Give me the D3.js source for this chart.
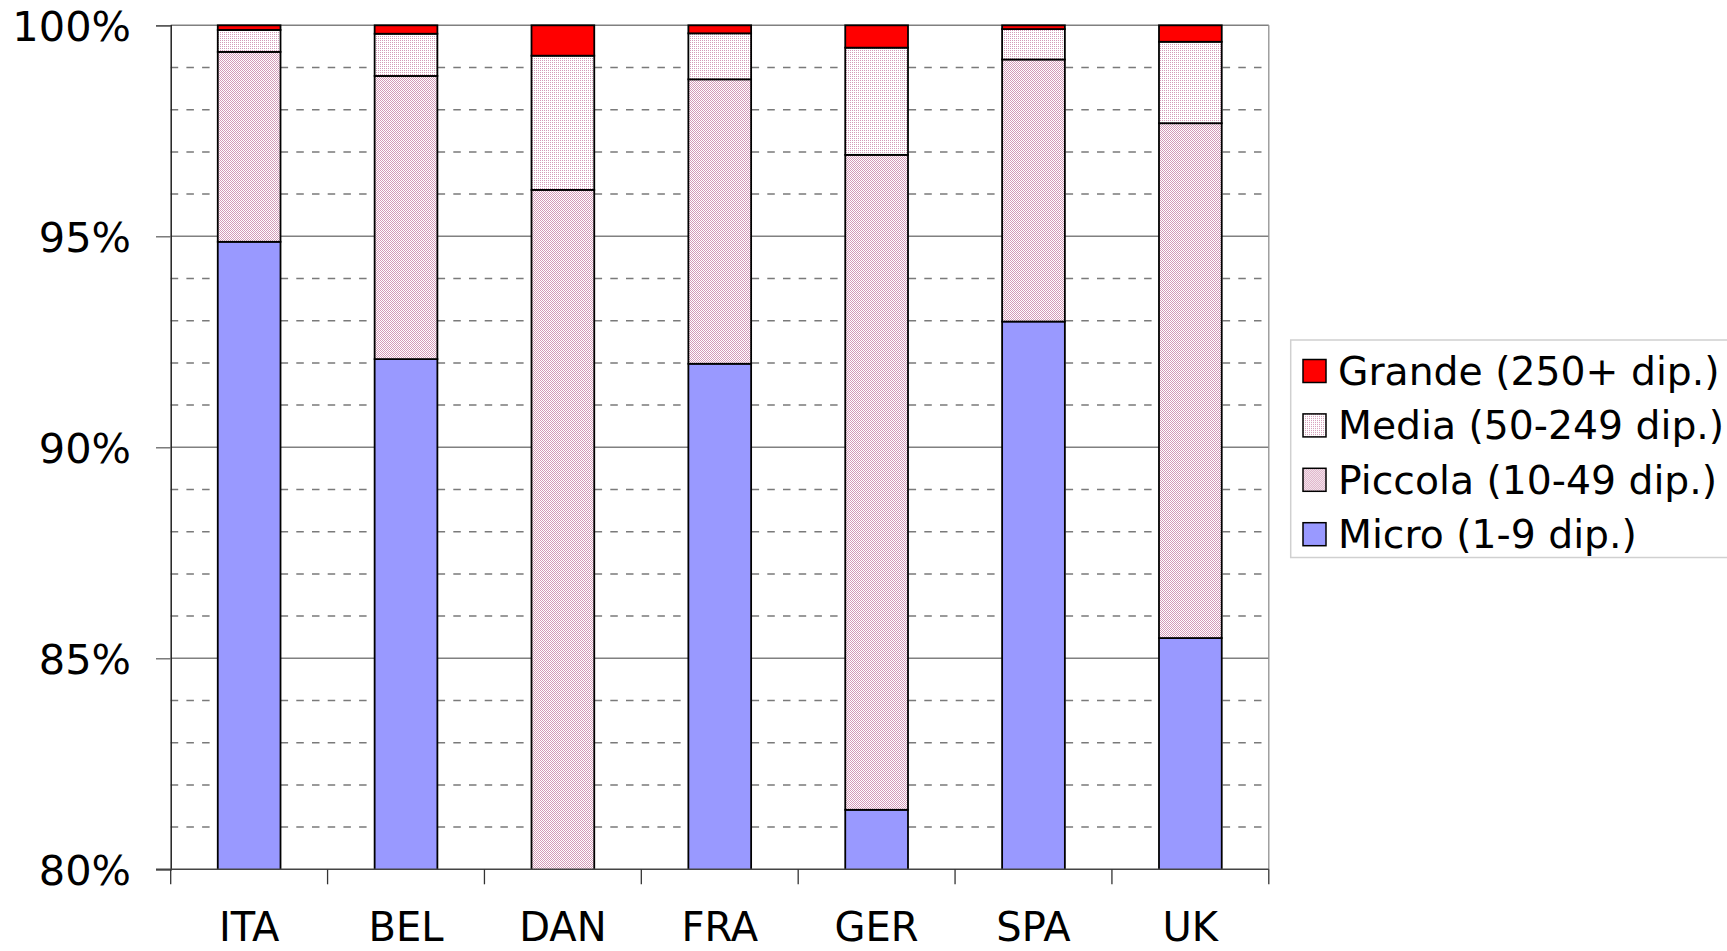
<!DOCTYPE html>
<html>
<head>
<meta charset="utf-8">
<script src="https://cdn.jsdelivr.net/npm/d3@7"></script>
<style>
  html, body { margin: 0; padding: 0; background: #fff; }
  svg { display: block; }
  text { font-family: "DejaVu Sans", Verdana, sans-serif; fill: #000; }
</style>
</head>
<body>
<svg id="chart" width="1727" height="951"></svg>
<script>
// ---- data ----
const categories = ["ITA", "BEL", "DAN", "FRA", "GER", "SPA", "UK"];
const micro   = [94.87, 92.09, 79.50, 91.98, 81.41, 92.98, 85.48];
const piccola = [4.50, 6.71, 16.60, 6.74, 15.52, 6.21, 12.20];
const media   = [0.52, 1.00, 3.18, 1.09, 2.54, 0.72, 1.93];
const grande  = [0.11, 0.20, 0.72, 0.19, 0.53, 0.09, 0.39];
const seriesNames = ["Micro (1-9 dip.)", "Piccola (10-49 dip.)", "Media (50-249 dip.)", "Grande (250+ dip.)"];
const majorTicks = [80, 85, 90, 95, 100];
const minorTicks = [81, 82, 83, 84, 86, 87, 88, 89, 91, 92, 93, 94, 96, 97, 98, 99];
const yDomain = [80, 100];

// ---- layout ----
const svg = d3.select("#chart");
const pLeft = 170.7, pRight = 1268.8, pTop = 25.3, pBottom = 869.3;

const x = d3.scaleBand().domain(categories).range([pLeft, pRight]).paddingInner(0.6).paddingOuter(0.3);
const xCat = d3.scaleBand().domain(categories).range([pLeft, pRight]);
const y = d3.scaleLinear().domain(yDomain).range([pBottom, pTop]);

// patterns
const defs = svg.append("defs");
const pink = "#D49AB8";
const pMed = defs.append("pattern").attr("id", "patMedia").attr("patternUnits", "userSpaceOnUse")
  .attr("width", 2).attr("height", 2);
pMed.append("rect").attr("width", 2).attr("height", 2).attr("fill", "#fff");
pMed.append("rect").attr("width", 1).attr("height", 1).attr("fill", pink);
const pPic = defs.append("pattern").attr("id", "patPiccola").attr("patternUnits", "userSpaceOnUse")
  .attr("width", 2).attr("height", 2);
pPic.append("rect").attr("width", 2).attr("height", 2).attr("fill", "#fff");
pPic.append("rect").attr("width", 1).attr("height", 1).attr("fill", pink);
pPic.append("rect").attr("x", 1).attr("y", 1).attr("width", 1).attr("height", 1).attr("fill", pink);

const fills = ["#9999FF", "url(#patPiccola)", "url(#patMedia)", "#FF0000"];

defs.append("clipPath").attr("id", "plotClip")
  .append("rect").attr("x", pLeft - 5).attr("y", pTop - 5).attr("width", pRight - pLeft + 10).attr("height", pBottom - pTop + 5);

// minor dashed gridlines
svg.append("g").selectAll("line").data(minorTicks).join("line")
  .attr("x1", pLeft).attr("x2", pRight)
  .attr("y1", d => y(d)).attr("y2", d => y(d))
  .attr("stroke", "#7a7a7a").attr("stroke-width", 1.5).attr("stroke-dasharray", "7.5,8.2");

// major gridlines
svg.append("g").selectAll("line").data(majorTicks.filter(d => d !== 80)).join("line")
  .attr("x1", pLeft).attr("x2", pRight)
  .attr("y1", d => y(d)).attr("y2", d => y(d))
  .attr("stroke", "#808080").attr("stroke-width", 1.4);

// right border of plot area
svg.append("line").attr("x1", pRight).attr("x2", pRight).attr("y1", pTop).attr("y2", pBottom)
  .attr("stroke", "#909090").attr("stroke-width", 1.3);

// stacked bars
const rows = categories.map((c, i) => ({ cat: c, micro: micro[i], piccola: piccola[i], media: media[i], grande: grande[i] }));
const keys = ["micro", "piccola", "media", "grande"];
const stacked = d3.stack().keys(keys)(rows);

const barsG = svg.append("g").attr("clip-path", "url(#plotClip)");
stacked.forEach((layer, li) => {
  barsG.append("g").selectAll("rect").data(layer).join("rect")
    .attr("x", d => x(d.data.cat))
    .attr("width", x.bandwidth())
    .attr("y", d => y(Math.min(d[1], 100)))
    .attr("height", d => Math.max(0, y(d[0]) - y(d[1])))
    .attr("fill", fills[li])
    .attr("stroke", "#000").attr("stroke-width", 1.8);
});

// y axis
const yAxis = d3.axisLeft(y).tickValues(majorTicks).tickSize(14.7).tickPadding(25)
  .tickFormat(d => d + "%");
const yg = svg.append("g").attr("transform", `translate(${pLeft},0)`).call(yAxis);
yg.select(".domain").attr("stroke", "#222").attr("stroke-width", 1.5);
yg.selectAll(".tick line").attr("stroke", "#666").attr("stroke-width", 1.3);
yg.selectAll(".tick text").attr("font-size", "41.5px").attr("font-family", "DejaVu Sans").attr("fill", "#000").attr("dy", "0.36em");

// x axis
const xAxis = d3.axisBottom(xCat).tickSize(0).tickFormat("");
const xg = svg.append("g").attr("transform", `translate(0,${pBottom})`).call(xAxis);
xg.select(".domain").attr("stroke", "#444").attr("stroke-width", 1.5)
  .attr("d", `M${pLeft - 14.7},0H${pRight}`);
const bounds = categories.map(c => xCat(c)).concat([pRight]);
xg.selectAll("line.bound").data(bounds).join("line").attr("class", "bound")
  .attr("x1", d => d).attr("x2", d => d).attr("y1", 0).attr("y2", 15)
  .attr("stroke", "#333").attr("stroke-width", 1.3);
xg.selectAll("text.cat").data(categories).join("text").attr("class", "cat")
  .attr("x", d => xCat(d) + xCat.bandwidth() / 2)
  .attr("y", 941 - pBottom)
  .attr("text-anchor", "middle")
  .attr("font-size", "40px")
  .text(d => d);

// legend
const legend = svg.append("g");
legend.append("rect").attr("x", 1290.7).attr("y", 340).attr("width", 445).attr("height", 217.5)
  .attr("fill", "#fff").attr("stroke", "#D0D0D0").attr("stroke-width", 1.5);
const legendOrder = [3, 2, 1, 0];
const lg = legend.selectAll("g.item").data(legendOrder).join("g").attr("class", "item")
  .attr("transform", (d, i) => `translate(1303, ${359.5 + i * 54.4})`);
lg.append("rect").attr("width", 23).attr("height", 23)
  .attr("fill", d => fills[d]).attr("stroke", "#000").attr("stroke-width", 1.5);
lg.append("text").attr("x", 35).attr("y", 25.5).attr("font-size", "39.3px")
  .text(d => seriesNames[d]);
</script>
</body>
</html>
